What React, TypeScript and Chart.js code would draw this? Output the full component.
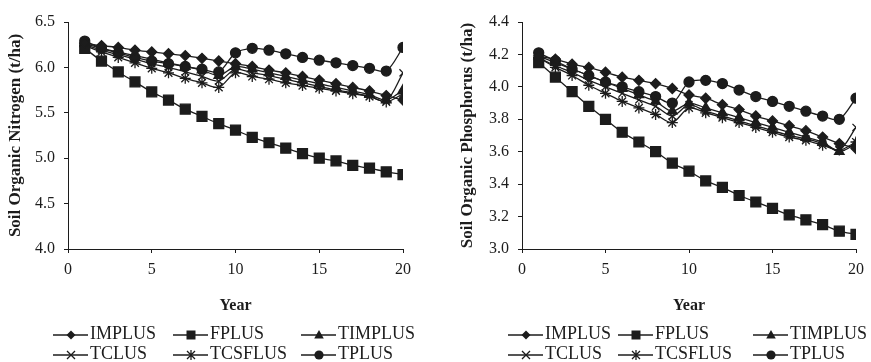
import React, { useEffect, useRef } from "react";
import { Chart, registerables } from "chart.js";

Chart.register(...registerables);

// ---------- DATA ----------
const years = [1, 2, 3, 4, 5, 6, 7, 8, 9, 10, 11, 12, 13, 14, 15, 16, 17, 18, 19, 20];
const seriesNames = ["IMPLUS", "FPLUS", "TIMPLUS", "TCLUS", "TCSFLUS", "TPLUS"];

// Soil Organic Nitrogen (t/ha)
const nImplus = [6.27, 6.24, 6.22, 6.19, 6.17, 6.15, 6.13, 6.10, 6.07, 6.04, 6.01, 5.97, 5.94, 5.90, 5.86, 5.82, 5.78, 5.74, 5.69, 5.64];
const nFplus = [6.21, 6.07, 5.95, 5.84, 5.73, 5.64, 5.54, 5.46, 5.38, 5.31, 5.23, 5.17, 5.11, 5.05, 5.00, 4.97, 4.92, 4.89, 4.85, 4.82];
const nTimplus = [6.26, 6.21, 6.17, 6.13, 6.09, 6.05, 6.01, 5.97, 5.91, 6.01, 5.98, 5.94, 5.90, 5.86, 5.82, 5.78, 5.74, 5.70, 5.64, 5.75];
const nTclus = [6.25, 6.19, 6.14, 6.09, 6.04, 6.00, 5.95, 5.90, 5.85, 5.98, 5.94, 5.91, 5.87, 5.83, 5.79, 5.75, 5.72, 5.68, 5.63, 5.94];
const nTcsflus = [6.24, 6.17, 6.11, 6.05, 5.99, 5.94, 5.88, 5.83, 5.78, 5.94, 5.90, 5.87, 5.83, 5.80, 5.77, 5.74, 5.71, 5.68, 5.62, 5.71];
const nTplus = [6.29, 6.21, 6.16, 6.11, 6.07, 6.04, 6.01, 5.98, 5.95, 6.16, 6.21, 6.19, 6.15, 6.11, 6.08, 6.05, 6.02, 5.99, 5.96, 6.22];

// Soil Organic Phosphorus (t/ha)
const pImplus = [4.19, 4.17, 4.14, 4.12, 4.09, 4.06, 4.04, 4.02, 3.99, 3.95, 3.93, 3.89, 3.86, 3.82, 3.79, 3.76, 3.73, 3.69, 3.65, 3.62];
const pFplus = [4.15, 4.06, 3.97, 3.88, 3.80, 3.72, 3.66, 3.60, 3.53, 3.48, 3.42, 3.38, 3.33, 3.29, 3.25, 3.21, 3.18, 3.15, 3.11, 3.09];
const pTimplus = [4.19, 4.15, 4.11, 4.07, 4.03, 3.99, 3.95, 3.91, 3.85, 3.90, 3.87, 3.84, 3.81, 3.78, 3.75, 3.72, 3.69, 3.66, 3.60, 3.65];
const pTclus = [4.18, 4.13, 4.09, 4.04, 4.00, 3.96, 3.92, 3.88, 3.82, 3.89, 3.85, 3.82, 3.79, 3.76, 3.73, 3.70, 3.68, 3.65, 3.61, 3.75];
const pTcsflus = [4.18, 4.12, 4.07, 4.01, 3.96, 3.91, 3.87, 3.83, 3.78, 3.87, 3.84, 3.81, 3.78, 3.75, 3.72, 3.69, 3.67, 3.64, 3.61, 3.66];
const pTplus = [4.21, 4.16, 4.11, 4.07, 4.03, 4.00, 3.97, 3.94, 3.90, 4.03, 4.04, 4.02, 3.98, 3.94, 3.91, 3.88, 3.85, 3.82, 3.80, 3.93];

const nitrogenSeries = [nImplus, nFplus, nTimplus, nTclus, nTcsflus, nTplus];
const phosphorusSeries = [pImplus, pFplus, pTimplus, pTclus, pTcsflus, pTplus];

// ---------- STYLE ----------
const INK = "#1c1c1c";
const FONT = "'Liberation Serif', 'Times New Roman', serif";
const pointStyles = ["rectRot", "rect", "triangle", "crossRot", "star", "circle"];
const pointRadii = [5, 7, 5.5, 5, 5.5, 5];

function drawMarker(ctx: CanvasRenderingContext2D, style: string, x: number, y: number) {
  ctx.save();
  ctx.fillStyle = INK;
  ctx.strokeStyle = INK;
  ctx.lineWidth = 1.3;
  ctx.beginPath();
  if (style === "rectRot") {
    const r = 4.5;
    ctx.moveTo(x, y - r);
    ctx.lineTo(x + r, y);
    ctx.lineTo(x, y + r);
    ctx.lineTo(x - r, y);
    ctx.closePath();
    ctx.fill();
  } else if (style === "rect") {
    ctx.fillRect(x - 4.5, y - 4.5, 9, 9);
  } else if (style === "triangle") {
    ctx.moveTo(x, y - 5);
    ctx.lineTo(x + 4.8, y + 3.5);
    ctx.lineTo(x - 4.8, y + 3.5);
    ctx.closePath();
    ctx.fill();
  } else if (style === "crossRot") {
    const r = 4;
    ctx.moveTo(x - r, y - r);
    ctx.lineTo(x + r, y + r);
    ctx.moveTo(x + r, y - r);
    ctx.lineTo(x - r, y + r);
    ctx.stroke();
  } else if (style === "star") {
    const r = 4;
    ctx.moveTo(x - r, y - r);
    ctx.lineTo(x + r, y + r);
    ctx.moveTo(x + r, y - r);
    ctx.lineTo(x - r, y + r);
    ctx.moveTo(x, y - r - 1);
    ctx.lineTo(x, y + r + 1);
    ctx.stroke();
  } else {
    ctx.arc(x, y, 4.6, 0, Math.PI * 2);
    ctx.fill();
  }
  ctx.restore();
}

function makeLegendPlugin(cols: number[], rows: number[]) {
  return {
    id: "gridLegend",
    afterDraw(chart: any) {
      const ctx: CanvasRenderingContext2D = chart.ctx;
      ctx.save();
      ctx.font = `18px ${FONT}`;
      ctx.textBaseline = "middle";
      ctx.textAlign = "left";
      seriesNames.forEach((name, i) => {
        const x0 = cols[i % 3];
        const y = rows[Math.floor(i / 3)];
        ctx.strokeStyle = INK;
        ctx.lineWidth = 1.5;
        ctx.beginPath();
        ctx.moveTo(x0, y);
        ctx.lineTo(x0 + 35, y);
        ctx.stroke();
        drawMarker(ctx, pointStyles[i], x0 + 18, y);
        ctx.fillStyle = INK;
        ctx.fillText(name, x0 + 37, y - 1);
      });
      ctx.restore();
    },
  };
}

type Cfg = {
  series: number[][];
  yMin: number;
  yMax: number;
  yStep: number;
  yTitle: string;
  padLeft: number;
  padRight: number;
  yAxisWidth: number;
  legendCols: number[];
};

function ChartPanel({ cfg, width }: { cfg: Cfg; width: number }) {
  const ref = useRef<HTMLCanvasElement | null>(null);
  useEffect(() => {
    if (!ref.current) return;
    const datasets = cfg.series.map((vals, i) => ({
      label: seriesNames[i],
      data: years.map((x, j) => ({ x, y: vals[j] })),
      borderColor: INK,
      backgroundColor: INK,
      borderWidth: 1.3,
      pointStyle: pointStyles[i] as any,
      pointRadius: pointRadii[i],
      pointBorderWidth: 1.3,
      pointBorderColor: INK,
      pointBackgroundColor: INK,
      tension: 0.3,
      fill: false,
    }));
    const chart = new Chart(ref.current, {
      type: "line",
      data: { datasets },
      plugins: [makeLegendPlugin(cfg.legendCols, [335, 355])],
      options: {
        animation: false,
        responsive: false,
        devicePixelRatio: 1,
        layout: { padding: { top: 22, left: cfg.padLeft, right: cfg.padRight, bottom: 47 } },
        plugins: { legend: { display: false }, tooltip: { enabled: false } },
        scales: {
          x: {
            type: "linear",
            min: 0,
            max: 20,
            ticks: { stepSize: 5, color: INK, padding: 7, font: { family: FONT, size: 16 }, maxRotation: 0 },
            grid: { drawOnChartArea: false, drawTicks: true, tickLength: 4, color: INK },
            border: { display: true, color: INK, width: 1 },
            title: { display: true, text: "Year", color: INK, font: { family: FONT, size: 16, weight: "bold" }, padding: { top: 0, bottom: 0 } },
            afterFit: (s: any) => {
              s.height = 66;
            },
          },
          y: {
            min: cfg.yMin,
            max: cfg.yMax,
            ticks: {
              stepSize: cfg.yStep,
              color: INK,
              padding: 9,
              font: { family: FONT, size: 16 },
              callback: (v: any) => Number(v).toFixed(1),
            },
            grid: { drawOnChartArea: false, drawTicks: true, tickLength: 4, color: INK },
            border: { display: true, color: INK, width: 1 },
            title: { display: true, text: cfg.yTitle, color: INK, font: { family: FONT, size: 17, weight: "bold" }, padding: { top: 5, bottom: 0 } },
            afterFit: (s: any) => {
              s.width = cfg.yAxisWidth;
            },
          },
        },
      } as any,
    });
    return () => chart.destroy();
  }, [cfg]);
  return <canvas ref={ref} width={width} height={362} style={{ display: "block", width, height: 362 }} />;
}

const leftCfg: Cfg = {
  series: nitrogenSeries,
  yMin: 4.0,
  yMax: 6.5,
  yStep: 0.5,
  yTitle: "Soil Organic Nitrogen (t/ha)",
  padLeft: 0,
  padRight: 32,
  yAxisWidth: 68,
  legendCols: [53, 173, 301],
};

const rightCfg: Cfg = {
  series: phosphorusSeries,
  yMin: 3.0,
  yMax: 4.4,
  yStep: 0.2,
  yTitle: "Soil Organic Phosphorus (t/ha)",
  padLeft: 17,
  padRight: 13,
  yAxisWidth: 70,
  legendCols: [73, 183, 318],
};

export default function App() {
  return (
    <div style={{ position: "fixed", left: 0, top: 0, width: 871, height: 362, background: "#fff", display: "flex" }}>
      <ChartPanel cfg={leftCfg} width={435} />
      <ChartPanel cfg={rightCfg} width={436} />
    </div>
  );
}
